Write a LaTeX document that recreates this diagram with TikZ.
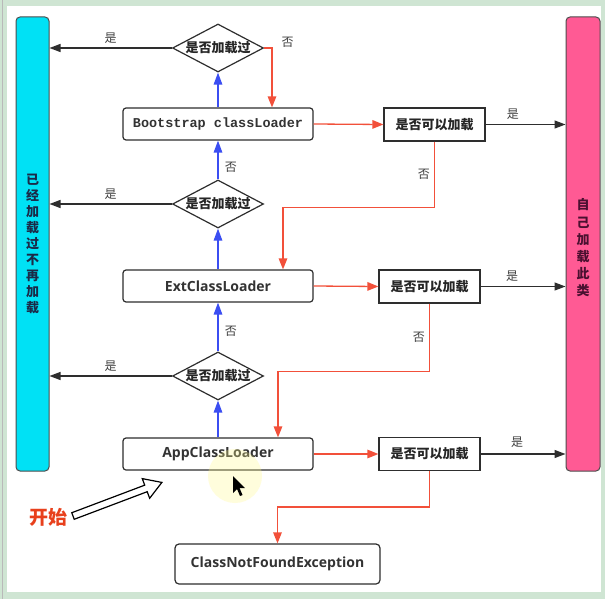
\documentclass[tikz,border=0pt]{standalone}
\usepackage{fontspec}
\setmainfont{Open Sans}
\newfontfamily\cjk{Noto Sans CJK SC}
\newfontfamily\monofam{Liberation Mono}
\usetikzlibrary{shapes.geometric,arrows.meta}
\definecolor{bggreen}{HTML}{CFE5D3}
\definecolor{cyanbar}{HTML}{00E1F5}
\definecolor{pinkbar}{HTML}{FF5A94}
\definecolor{redline}{HTML}{F2503A}
\definecolor{blueline}{HTML}{3B4EF2}
\definecolor{darkline}{HTML}{2E2E2E}
\definecolor{starttext}{HTML}{E8401C}
\definecolor{cyantext}{HTML}{1B2A48}
\definecolor{pinktext}{HTML}{4A1030}
\begin{document}
\begin{tikzpicture}[x=1pt,y=-1pt,
  loader/.style={draw=darkline,line width=1.2pt,rounded corners=3pt,fill=white,minimum width=190pt,minimum height=32pt,inner sep=0pt,font=\fontsize{14}{16}\selectfont\bfseries,text=black!80},
  check/.style={draw=darkline,line width=1.2pt,diamond,aspect=1.9,inner sep=0pt,minimum width=91pt,minimum height=48pt,fill=white,font=\cjk\bfseries\fontsize{13}{14}\selectfont,text=black!85},
  canload/.style={draw=darkline,line width=1.2pt,fill=white,minimum width=101pt,minimum height=33pt,inner sep=0pt,font=\cjk\bfseries\fontsize{13}{14}\selectfont,text=black!85},
  bar/.style={draw=darkline!85,line width=1pt,rounded corners=4pt,minimum height=454pt,inner sep=0pt,align=center,font=\cjk\bfseries\fontsize{13}{16}\selectfont},
  lbl/.style={font=\cjk\fontsize{12}{13}\selectfont,text=black!75,inner sep=1pt},
  blkarrow/.style={draw=darkline,line width=1.2pt,-{Triangle[length=11pt,width=8pt]}},
  redarrow/.style={draw=redline,line width=1.3pt,-{Triangle[length=11pt,width=8.5pt]}},
  bluearrow/.style={draw=blueline,line width=1.5pt,-{Triangle[length=12pt,width=8.5pt]}},
]
\useasboundingbox (0,0) rectangle (605,599);
\fill[bggreen] (0,0) rectangle (605,599);
\fill[white] (7,6) rectangle (601,592);
\draw[gray!55,line width=0.8pt] (2,0) -- (2,599);

% side bars
\node[bar,fill=cyanbar,minimum width=33pt,text=cyantext] (leftbar) at (32.5,244) {已\\经\\加\\载\\过\\不\\再\\加\\载};
\node[bar,fill=pinkbar,minimum width=34pt] (rightbar) at (583,244) {};
\node[font=\cjk\bfseries\fontsize{13}{17.2}\selectfont,align=center,text=pinktext,inner sep=0pt] (righttext) at (583,248) {自\\己\\加\\载\\此\\类};

% main column
\node[check] (d1) at (218,48) {是否加载过};
\node[loader,font=\monofam\bfseries\fontsize{13.5}{15}\selectfont] (boot) at (218,124) {Bootstrap classLoader};
\node[check] (d2) at (218,204) {是否加载过};
\node[loader] (ext) at (218,286) {ExtClassLoader};
\node[check] (d3) at (218,376) {是否加载过};
\node[loader] (app) at (218,454) {AppClassLoader};
\node[loader,minimum width=205pt,minimum height=40pt,rounded corners=4pt] (cnf) at (277.5,564) {ClassNotFoundException};

% can-load boxes
\node[canload] (c1) at (434.5,124.5) {是否可以加载};
\node[canload] (c2) at (429.5,286.5) {是否可以加载};
\node[canload] (c3) at (429.5,454) {是否可以加载};

% blue: loader -> check
\draw[bluearrow] (boot.north) -- (d1.south);
\draw[bluearrow] (d2.north) -- (boot.south) node[lbl,pos=0.3,right=5pt] {否};
\draw[bluearrow] (ext.north) -- (d2.south);
\draw[bluearrow] (d3.north) -- (ext.south) node[lbl,pos=0.42,right=5pt] {否};
\draw[bluearrow] (app.north) -- (d3.south);

% black: check -> left bar
\draw[blkarrow] (d1.west) -- (leftbar.east |- d1.west) node[lbl,midway,above=3pt] {是};
\draw[blkarrow] (d2.west) -- (leftbar.east |- d2.west) node[lbl,midway,above=3pt] {是};
\draw[blkarrow] (d3.west) -- (leftbar.east |- d3.west) node[lbl,midway,above=3pt] {是};

% red: d1 -> bootstrap
\draw[redarrow] (d1.east) -| node[lbl,pos=0.5,anchor=west,xshift=8pt,yshift=6pt] {否} ([xshift=54pt]boot.north);

% red: loader -> can-load
\draw[redarrow] (boot.east) -- (c1.west);
\draw[redarrow] (ext.east) -- (c2.west);
\draw[redarrow] (app.east) -- (c3.west);

% black: can-load -> right bar
\draw[blkarrow] (c1.east) -- (rightbar.west |- c1.east) node[lbl,pos=0.34,above=3pt] {是};
\draw[blkarrow] (c2.east) -- (rightbar.west |- c2.east) node[lbl,pos=0.37,above=3pt] {是};
\draw[blkarrow] (c3.east) -- (rightbar.west |- c3.east) node[lbl,pos=0.43,above=5pt] {是};

% red: can-load fails -> next loader
\draw[redarrow] (c1.south) -- ++(0,66) node[lbl,midway,left=3pt] {否} -| ([xshift=65pt]ext.north);
\draw[redarrow] (c2.south) -- ++(0,68) node[lbl,midway,left=3pt] {否} -| ([xshift=60pt]app.north);
\draw[redarrow] (c3.south) -- ++(0,36) -| (cnf.north);

% start
\node[font=\cjk\bfseries\fontsize{19}{20}\selectfont,text=starttext,inner sep=0pt] (start) at (48,517) {开始};
\begin{scope}[shift={(73,516)},rotate=20.7]
  \draw[line width=1.2pt,fill=white,line join=miter]
    (0,-3.5) -- (78,-3.5) -- (78,-10.5) -- (95,0) -- (78,10.5) -- (78,3.5) -- (0,3.5) -- cycle;
\end{scope}

% cursor with highlight
\fill[yellow!45!white,fill opacity=0.3] (235,476) circle (27);
\fill[black] (233,476) -- (233,493) -- (237,489) -- (240,496) -- (242.5,495) -- (239.5,488) -- (245,488) -- cycle;
\end{tikzpicture}
\end{document}
